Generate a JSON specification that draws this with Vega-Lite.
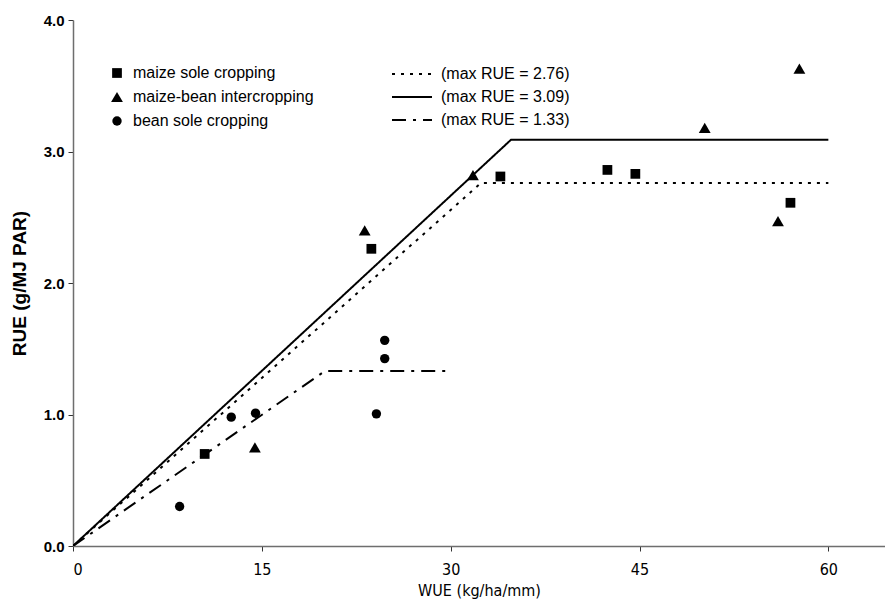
{
  "$schema": "https://vega.github.io/schema/vega-lite/v6.json",
  "autosize": {"type": "none"},
  "padding": {"left": 73, "top": 20, "right": 0, "bottom": 57},
  "width": 812,
  "height": 526,
  "background": "white",
  "config": {
    "view": {"stroke": null},
    "font": "Liberation Sans",
    "axis": {
      "grid": false,
      "domainColor": "#6e6e6e",
      "domainWidth": 1.5,
      "tickColor": "#333333",
      "tickSize": 5,
      "labelColor": "black",
      "titleColor": "black"
    }
  },
  "datasets": {
    "points": [
      {"treatment": "maize sole cropping", "WUE": 10.46, "RUE": 0.70},
      {"treatment": "maize sole cropping", "WUE": 23.7, "RUE": 2.26},
      {"treatment": "maize sole cropping", "WUE": 33.95, "RUE": 2.81},
      {"treatment": "maize sole cropping", "WUE": 42.45, "RUE": 2.86},
      {"treatment": "maize sole cropping", "WUE": 44.67, "RUE": 2.83},
      {"treatment": "maize sole cropping", "WUE": 56.99, "RUE": 2.61},
      {"treatment": "maize-bean intercropping", "WUE": 14.45, "RUE": 0.75},
      {"treatment": "maize-bean intercropping", "WUE": 23.17, "RUE": 2.40},
      {"treatment": "maize-bean intercropping", "WUE": 31.77, "RUE": 2.82},
      {"treatment": "maize-bean intercropping", "WUE": 50.18, "RUE": 3.18},
      {"treatment": "maize-bean intercropping", "WUE": 56.0, "RUE": 2.47},
      {"treatment": "maize-bean intercropping", "WUE": 57.7, "RUE": 3.63},
      {"treatment": "bean sole cropping", "WUE": 8.47, "RUE": 0.30},
      {"treatment": "bean sole cropping", "WUE": 12.57, "RUE": 0.98},
      {"treatment": "bean sole cropping", "WUE": 14.5, "RUE": 1.01},
      {"treatment": "bean sole cropping", "WUE": 24.1, "RUE": 1.005},
      {"treatment": "bean sole cropping", "WUE": 24.76, "RUE": 1.425},
      {"treatment": "bean sole cropping", "WUE": 24.76, "RUE": 1.564}
    ],
    "curves": [
      {"curve": "(max RUE = 2.76)", "WUE": 0, "RUE": 0},
      {"curve": "(max RUE = 2.76)", "WUE": 32.4, "RUE": 2.76},
      {"curve": "(max RUE = 2.76)", "WUE": 60, "RUE": 2.76},
      {"curve": "(max RUE = 3.09)", "WUE": 0, "RUE": 0},
      {"curve": "(max RUE = 3.09)", "WUE": 34.8, "RUE": 3.09},
      {"curve": "(max RUE = 3.09)", "WUE": 60, "RUE": 3.09},
      {"curve": "(max RUE = 1.33)", "WUE": 0, "RUE": 0},
      {"curve": "(max RUE = 1.33)", "WUE": 20, "RUE": 1.33},
      {"curve": "(max RUE = 1.33)", "WUE": 30, "RUE": 1.33}
    ]
  },
  "encoding": {
    "x": {
      "field": "WUE", "type": "quantitative",
      "scale": {"domain": [0, 64.5], "nice": false, "zero": true},
      "axis": {
        "values": [0, 15, 30, 45, 60], "format": "d",
        "title": "WUE (kg/ha/mm)",
        "labelFont": "DejaVu Sans Condensed, Liberation Sans", "labelFontSize": 16, "labelPadding": 10,
        "titleFont": "DejaVu Sans Condensed, Liberation Sans", "titleFontSize": 16, "titleFontWeight": "normal", "titlePadding": 5
      }
    },
    "y": {
      "field": "RUE", "type": "quantitative",
      "scale": {"domain": [0, 4], "nice": false},
      "axis": {
        "values": [0, 1, 2, 3, 4], "format": ".1f",
        "title": "RUE (g/MJ PAR)",
        "labelFontSize": 15, "labelFontWeight": "bold", "labelPadding": 4,
        "titleFontSize": 19, "titleFontWeight": "bold", "titlePadding": 14
      }
    }
  },
  "layer": [
    {
      "data": {"name": "curves"},
      "mark": {"type": "line", "color": "black", "strokeWidth": 2, "clip": true},
      "encoding": {
        "detail": {"field": "curve"},
        "strokeDash": {
          "field": "curve", "type": "nominal",
          "scale": {
            "domain": ["(max RUE = 2.76)", "(max RUE = 3.09)", "(max RUE = 1.33)"],
            "range": [[3, 6], [1, 0], [14, 7, 3, 7]]
          },
          "legend": {
            "title": null,
            "orient": "none",
            "legendX": 331,
            "legendY": 46,
            "symbolType": "M-4,0H4",
            "symbolStrokeColor": "black",
            "symbolStrokeWidth": 2,
            "symbolSize": 100,
            "labelFontSize": 16,
            "labelOffset": 21,
            "labelLimit": 300,
            "rowPadding": 7
          }
        }
      }
    },
    {
      "data": {"name": "points"},
      "mark": {"type": "point", "filled": true, "color": "black", "opacity": 1},
      "encoding": {
        "size": {
          "field": "treatment", "type": "nominal",
          "scale": {
            "type": "ordinal",
            "domain": ["maize sole cropping", "maize-bean intercropping", "bean sole cropping"],
            "range": [95, 140, 88]
          }
        },
        "shape": {
          "field": "treatment", "type": "nominal",
          "scale": {
            "domain": ["maize sole cropping", "maize-bean intercropping", "bean sole cropping"],
            "range": ["square", "triangle-up", "circle"]
          },
          "legend": {
            "title": null,
            "orient": "none",
            "legendX": 36,
            "legendY": 45,
            "symbolFillColor": "black",
            "symbolStrokeColor": "black",
            "labelFontSize": 16,
            "labelOffset": 8,
            "labelLimit": 300,
            "rowPadding": 7
          }
        }
      }
    }
  ]
}
